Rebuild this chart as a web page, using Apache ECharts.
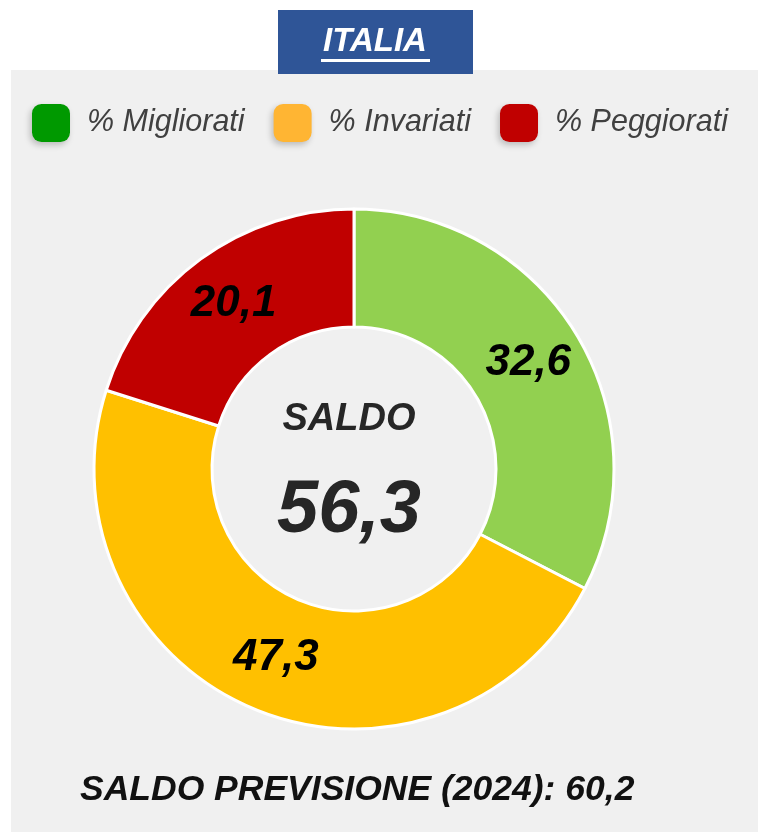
<!DOCTYPE html>
<html>
<head>
<meta charset="utf-8">
<script src="https://cdn.jsdelivr.net/npm/echarts@6/dist/echarts.min.js"></script>
<style>
  html, body { margin: 0; padding: 0; background: #ffffff; }
  #chart { width: 758px; height: 832px; }
</style>
</head>
<body>
<div id="chart"></div>
<script>
// data
var categories = ['% Migliorati', '% Invariati', '% Peggiorati'];
var values = [32.6, 47.3, 20.1];
var saldo = 56.3;
var saldoPrevisione = 60.2;
var previsioneAnno = '2024';
var areaName = 'ITALIA';

// colours
var sliceColors = ['#92d050', '#ffc000', '#c00000'];
var legendColors = ['#009900', '#ffb533', '#c00000'];

var FONT = '"Liberation Sans", Arial, sans-serif';

function fmt(v) {
    return v.toFixed(1).replace('.', ',');
}

var chart = echarts.init(document.getElementById('chart'));

var option = {
    backgroundColor: '#ffffff',
    animation: false,
    graphic: [
        // grey panel
        {
            type: 'rect', z: 0,
            shape: { x: 11, y: 70, width: 760, height: 780 },
            style: { fill: '#f0f0f0' }
        },
        // title box
        {
            type: 'rect', z: 1,
            shape: { x: 278, y: 10, width: 195, height: 64 },
            style: { fill: '#2f5597' }
        },
        {
            type: 'text', z: 2,
            x: 375, y: 42,
            style: {
                text: areaName, fill: '#ffffff',
                font: 'italic bold 33px ' + FONT,
                align: 'center', verticalAlign: 'middle'
            }
        },
        {
            type: 'rect', z: 2,
            shape: { x: 321, y: 59, width: 109, height: 3 },
            style: { fill: '#ffffff' }
        },
        // centre texts
        {
            type: 'text', z: 5,
            x: 349, y: 420,
            style: {
                text: 'SALDO', fill: '#262626',
                font: 'italic bold 38px ' + FONT,
                align: 'center', verticalAlign: 'middle'
            }
        },
        {
            type: 'text', z: 5,
            x: 349, y: 512,
            style: {
                text: fmt(saldo), fill: '#262626',
                font: 'italic bold 74px ' + FONT,
                align: 'center', verticalAlign: 'middle'
            }
        },
        // footer
        {
            type: 'text', z: 5,
            x: 80, y: 790,
            style: {
                text: 'SALDO PREVISIONE (' + previsioneAnno + '): ' + fmt(saldoPrevisione),
                fill: '#111111',
                font: 'italic bold 35.5px ' + FONT,
                align: 'left', verticalAlign: 'middle'
            }
        }
    ],
    legend: {
        left: 32, top: 104,
        padding: 0,
        itemWidth: 38, itemHeight: 38,
        itemGap: 29,
        icon: 'roundRect',
        selectedMode: false,
        textStyle: {
            fontFamily: FONT, fontStyle: 'italic', fontSize: 30.5,
            color: '#404040', padding: [0, 0, 0, 12]
        },
        data: categories.map(function (c, i) {
            return {
                name: c,
                itemStyle: {
                    color: legendColors[i],
                    borderWidth: 0,
                    shadowBlur: 6, shadowColor: 'rgba(0,0,0,0.22)',
                    shadowOffsetX: -2, shadowOffsetY: 3
                }
            };
        })
    },
    series: [{
        type: 'pie',
        center: [354, 469],
        radius: [142, 260],
        startAngle: 90,
        clockwise: true,
        avoidLabelOverlap: false,
        itemStyle: { borderColor: '#ffffff', borderWidth: 3 },
        label: {
            show: true, position: 'inside',
            formatter: function (p) { return fmt(p.value); },
            fontFamily: FONT, fontStyle: 'italic', fontWeight: 'bold',
            fontSize: 44, color: '#000000'
        },
        labelLine: { show: false },
        emphasis: { disabled: true },
        data: categories.map(function (c, i) {
            return { name: c, value: values[i], itemStyle: { color: sliceColors[i] } };
        })
    }]
};

chart.setOption(option);
</script>
</body>
</html>
